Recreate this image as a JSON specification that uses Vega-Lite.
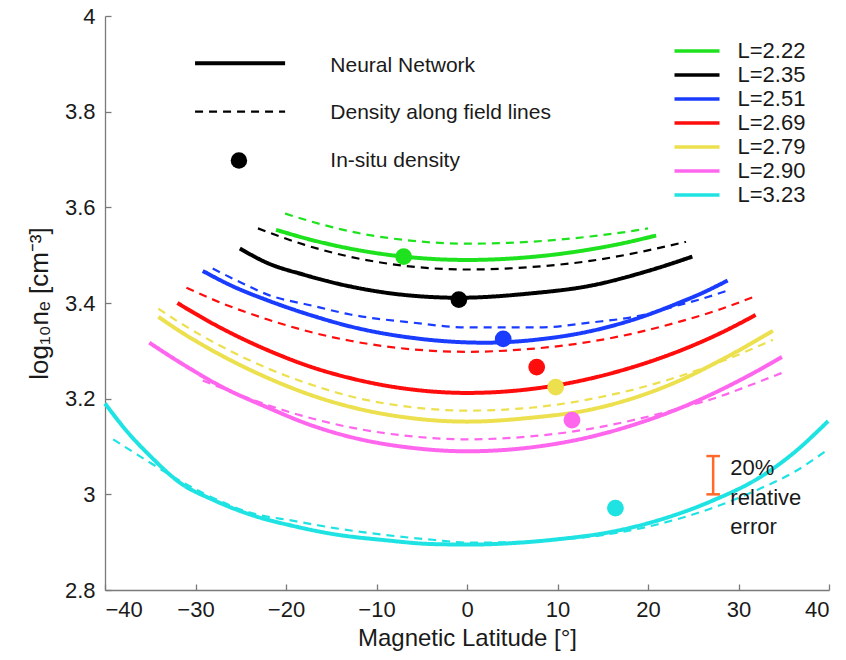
{
  "$schema": "https://vega.github.io/schema/vega-lite/v6.json",
  "width": 724,
  "height": 574,
  "autosize": {"type": "none"},
  "padding": {"left": 105, "top": 16, "right": 17, "bottom": 70},
  "background": "white",
  "config": {
    "font": "Liberation Sans",
    "view": {"stroke": null},
    "axis": {
      "grid": false,
      "domainColor": "#7a7a7a",
      "domainWidth": 1.3,
      "tickColor": "#7a7a7a",
      "tickWidth": 1.3,
      "tickSize": -6,
      "labelFontSize": 22,
      "labelColor": "#1a1a1a",
      "labelFont": "Liberation Sans",
      "titleFont": "Liberation Sans",
      "titleFontSize": 24,
      "titleFontWeight": "normal",
      "titleColor": "#1a1a1a"
    }
  },
  "layer": [
    {
      "data": {"values": [
        {"L": "L=2.22", "type": "Neural Network", "lat": [-21.1, -17, -13, -7, 0, 7, 13.6, 17, 20.9], "ne": [3.553, 3.531, 3.514, 3.497, 3.490, 3.496, 3.512, 3.524, 3.541]},
        {"L": "L=2.22", "type": "Density along field lines", "lat": [-20.1, -16, -13, -7, 0, 7, 13.6, 17, 20], "ne": [3.587, 3.564, 3.550, 3.532, 3.524, 3.528, 3.539, 3.547, 3.556]},
        {"L": "L=2.35", "type": "Neural Network", "lat": [-25.1, -22.1, -18, -13, -7, -0.9, 7, 13.6, 20, 24.9], "ne": [3.514, 3.484, 3.459, 3.435, 3.417, 3.411, 3.420, 3.436, 3.467, 3.497]},
        {"L": "L=2.35", "type": "Density along field lines", "lat": [-23.1, -18, -13, -7, 0, 7, 13.6, 20, 24.2], "ne": [3.556, 3.522, 3.497, 3.478, 3.470, 3.475, 3.488, 3.510, 3.528]},
        {"L": "L=2.51", "type": "Neural Network", "lat": [-29.2, -26, -22.1, -17, -12.9, -6, 2, 8, 13.6, 19, 23.5, 26, 28.8], "ne": [3.467, 3.436, 3.406, 3.373, 3.351, 3.327, 3.317, 3.324, 3.341, 3.369, 3.401, 3.421, 3.447]},
        {"L": "L=2.51", "type": "Density along field lines", "lat": [-28.1, -25, -22.1, -17, -12.9, -6, 0, 8, 13.6, 19, 23.5, 26, 28.8], "ne": [3.472, 3.443, 3.418, 3.394, 3.376, 3.359, 3.349, 3.349, 3.359, 3.373, 3.396, 3.409, 3.426]},
        {"L": "L=2.69", "type": "Neural Network", "lat": [-32, -28, -22.1, -17, -12.9, -6, 0, 7, 13.6, 19, 23.5, 28, 31.9], "ne": [3.400, 3.356, 3.302, 3.265, 3.243, 3.219, 3.212, 3.220, 3.242, 3.270, 3.300, 3.337, 3.375]},
        {"L": "L=2.69", "type": "Density along field lines", "lat": [-31, -27, -22.1, -17, -12.9, -6, 0, 7, 13.6, 19, 23.5, 28, 31.7], "ne": [3.432, 3.399, 3.366, 3.338, 3.321, 3.303, 3.298, 3.304, 3.319, 3.339, 3.361, 3.387, 3.413]},
        {"L": "L=2.79", "type": "Neural Network", "lat": [-34.1, -31.4, -27, -22.1, -17, -12.9, -6, 0, 7, 13.6, 19, 23.5, 28, 33.8], "ne": [3.371, 3.337, 3.289, 3.244, 3.206, 3.183, 3.159, 3.152, 3.160, 3.177, 3.205, 3.238, 3.280, 3.342]},
        {"L": "L=2.79", "type": "Density along field lines", "lat": [-34.1, -31.4, -27, -22.1, -17, -12.9, -6, 0, 7, 13.6, 19, 23.5, 28, 33.8], "ne": [3.388, 3.355, 3.308, 3.264, 3.228, 3.205, 3.182, 3.175, 3.181, 3.199, 3.222, 3.247, 3.277, 3.323]},
        {"L": "L=2.90", "type": "Neural Network", "lat": [-35.1, -31.4, -27, -22.1, -17, -12.9, -6, 0, 7, 13.6, 19, 23.5, 28, 31, 34.8], "ne": [3.317, 3.272, 3.224, 3.182, 3.143, 3.120, 3.097, 3.090, 3.098, 3.120, 3.149, 3.180, 3.218, 3.247, 3.287]},
        {"L": "L=2.90", "type": "Density along field lines", "lat": [-29.2, -25, -22.1, -17, -12.9, -6, 0, 7, 13.6, 19, 23.5, 28, 31, 34.8], "ne": [3.238, 3.207, 3.187, 3.158, 3.140, 3.121, 3.115, 3.121, 3.137, 3.158, 3.180, 3.205, 3.226, 3.254]},
        {"L": "L=3.23", "type": "Neural Network", "lat": [-40, -37.5, -35, -31.7, -28, -24, -19, -14.8, -9, -3.8, 0.3, 5, 10, 15.8, 21, 26.9, 32.4, 36, 39.9], "ne": [3.190, 3.130, 3.080, 3.024, 2.988, 2.958, 2.933, 2.917, 2.904, 2.896, 2.895, 2.898, 2.906, 2.921, 2.945, 2.985, 3.036, 3.085, 3.153]},
        {"L": "L=3.23", "type": "Density along field lines", "lat": [-39.1, -35, -31.7, -28, -24, -19, -14.8, -9, -3.8, 0.3, 5, 10, 15.8, 21, 26.9, 32.4, 36, 39.9], "ne": [3.115, 3.066, 3.028, 2.992, 2.962, 2.944, 2.930, 2.915, 2.905, 2.899, 2.900, 2.905, 2.917, 2.937, 2.970, 3.012, 3.045, 3.094]}
      ]},
      "transform": [{"flatten": ["lat", "ne"]}],
      "mark": {"type": "line", "interpolate": "monotone", "strokeCap": "butt"},
      "encoding": {
        "x": {"field": "lat", "type": "quantitative", "scale": {"domain": [-40, 40], "nice": false},
              "axis": {"values": [-40, -30, -20, -10, 0, 10, 20, 30, 40], "format": "d", "labelPadding": 15, "titlePadding": 6},
              "title": "Magnetic Latitude [°]"},
        "y": {"field": "ne", "type": "quantitative", "scale": {"domain": [2.8, 4], "nice": false, "zero": false},
              "axis": {"values": [2.8, 3, 3.2, 3.4, 3.6, 3.8, 4], "format": ".2~f", "labelPadding": 16, "titlePadding": 12, "titleFontSize": 26},
              "title": "log₁₀nₑ [cm⁻³]"},
        "color": {"field": "L", "type": "nominal",
                  "scale": {"domain": ["L=2.22", "L=2.35", "L=2.51", "L=2.69", "L=2.79", "L=2.90", "L=3.23"],
                            "range": ["#1fe21f", "#000000", "#1a3cff", "#ff0d0d", "#ece04e", "#ff66ee", "#1fe3e3"]},
                  "legend": {"orient": "none", "legendX": 581, "legendY": 24, "title": null,
                             "symbolType": "M-5,0H5", "symbolSize": 81, "symbolStrokeWidth": 3.5,
                             "labelFontSize": 22, "labelFont": "Liberation Sans", "labelColor": "#1a1a1a",
                             "labelOffset": 29.5, "rowPadding": 2, "padding": 0}},
        "strokeDash": {"field": "type", "type": "nominal",
                       "scale": {"domain": ["Neural Network", "Density along field lines"], "range": [[1, 0], [8, 6]]},
                       "legend": null},
        "strokeWidth": {"field": "type", "type": "nominal",
                        "scale": {"domain": ["Neural Network", "Density along field lines"], "range": [4, 2.2]},
                        "legend": null},
        "detail": {"field": "type"}
      }
    },
    {
      "data": {"values": [
        {"L": "L=2.22", "lat": -7.0, "ne": 3.497},
        {"L": "L=2.35", "lat": -0.9, "ne": 3.407},
        {"L": "L=2.51", "lat": 4.0, "ne": 3.325},
        {"L": "L=2.69", "lat": 7.7, "ne": 3.266},
        {"L": "L=2.79", "lat": 9.8, "ne": 3.224},
        {"L": "L=2.90", "lat": 11.6, "ne": 3.155},
        {"L": "L=3.23", "lat": 16.4, "ne": 2.971}
      ]},
      "mark": {"type": "circle", "size": 280, "opacity": 1},
      "encoding": {
        "x": {"field": "lat", "type": "quantitative"},
        "y": {"field": "ne", "type": "quantitative"},
        "color": {"field": "L", "type": "nominal"}
      }
    },
    {
      "data": {"values": [{"lat": 27.2, "lo": 3.0, "hi": 3.08}]},
      "mark": {"type": "rule", "color": "#ff6a2a", "strokeWidth": 2.5},
      "encoding": {
        "x": {"field": "lat", "type": "quantitative"},
        "y": {"field": "lo", "type": "quantitative"},
        "y2": {"field": "hi"}
      }
    },
    {
      "data": {"values": [{"ne": 3.0}, {"ne": 3.08}]},
      "mark": {"type": "rule", "color": "#ff6a2a", "strokeWidth": 2.5},
      "encoding": {
        "x": {"datum": 26.45, "type": "quantitative"},
        "x2": {"datum": 27.95},
        "y": {"field": "ne", "type": "quantitative"}
      }
    },
    {
      "data": {"values": [
        {"text": "20%", "lat": 29.1, "ne": 3.055},
        {"text": "relative", "lat": 29.1, "ne": 2.992},
        {"text": "error", "lat": 29.1, "ne": 2.931}
      ]},
      "mark": {"type": "text", "align": "left", "baseline": "middle", "fontSize": 22, "color": "#1a1a1a"},
      "encoding": {
        "x": {"field": "lat", "type": "quantitative"},
        "y": {"field": "ne", "type": "quantitative"},
        "text": {"field": "text"}
      }
    },
    {
      "data": {"values": [
        {"type": "Neural Network", "ne": 3.901},
        {"type": "Density along field lines", "ne": 3.800}
      ]},
      "mark": {"type": "rule", "color": "#000000", "strokeCap": "butt"},
      "encoding": {
        "x": {"datum": -30.05, "type": "quantitative"},
        "x2": {"datum": -20.1},
        "y": {"field": "ne", "type": "quantitative"},
        "strokeDash": {"field": "type", "type": "nominal"},
        "strokeWidth": {"field": "type", "type": "nominal"}
      }
    },
    {
      "data": {"values": [{"lat": -25.2, "ne": 3.698}]},
      "mark": {"type": "circle", "size": 270, "opacity": 1, "color": "#000000"},
      "encoding": {
        "x": {"field": "lat", "type": "quantitative"},
        "y": {"field": "ne", "type": "quantitative"}
      }
    },
    {
      "data": {"values": [
        {"label": "Neural Network", "ne": 3.896},
        {"label": "Density along field lines", "ne": 3.797},
        {"label": "In-situ density", "ne": 3.696}
      ]},
      "mark": {"type": "text", "align": "left", "baseline": "middle", "fontSize": 21, "color": "#1a1a1a"},
      "encoding": {
        "x": {"datum": -15.1, "type": "quantitative"},
        "y": {"field": "ne", "type": "quantitative"},
        "text": {"field": "label"}
      }
    }
  ]
}
